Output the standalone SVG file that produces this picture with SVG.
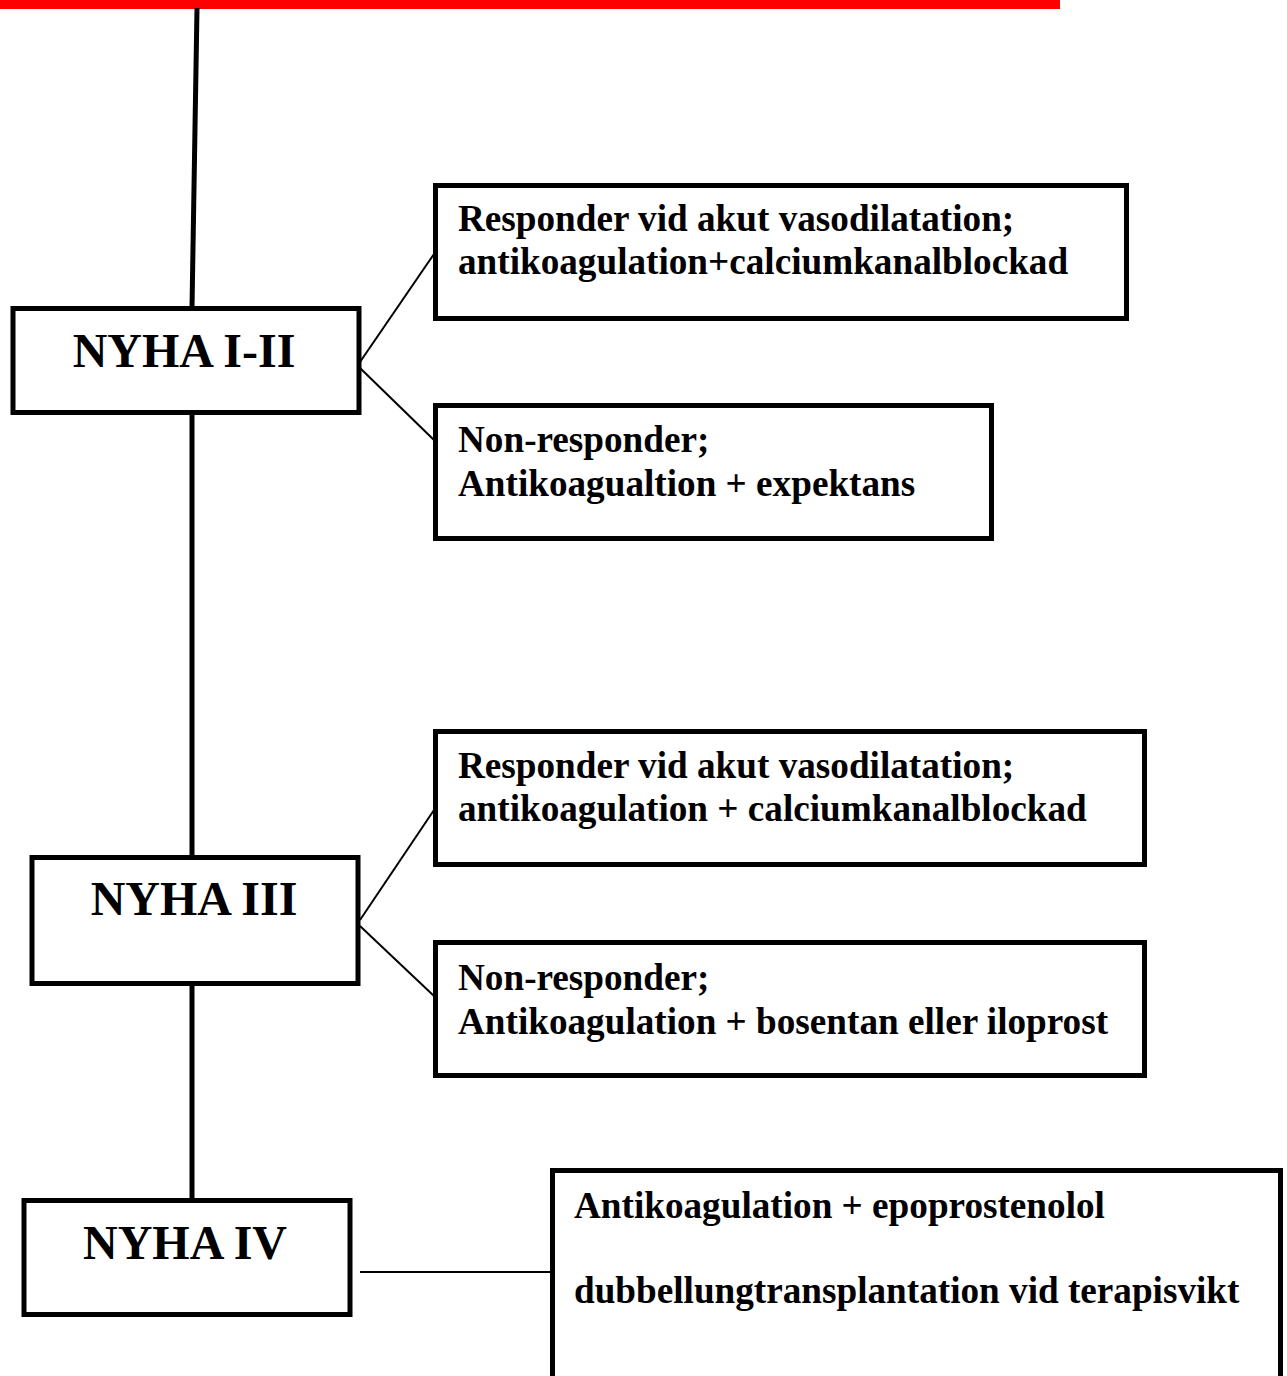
<svg xmlns="http://www.w3.org/2000/svg" width="1287" height="1376" viewBox="0 0 1287 1376">
<style>
.box{fill:#fff;stroke:#000;stroke-width:5}
.big{font-family:"Liberation Serif","Times New Roman",serif;font-weight:bold;font-size:48px;fill:#000;text-anchor:middle}
.txt{font-family:"Liberation Serif","Times New Roman",serif;font-weight:bold;font-size:37.2px;fill:#000}
.thick{stroke:#000;stroke-width:5;fill:none}
.thin{stroke:#000;stroke-width:2;fill:none}
</style>
<rect x="0" y="0" width="1287" height="1376" fill="#fff"/>
<g id="top-bar"><rect x="0" y="0" width="1060" height="9" fill="#ff0000"/></g>
<g id="connectors">
<line class="thick" x1="197" y1="8" x2="192" y2="308"/>
<line class="thick" x1="192" y1="414" x2="192" y2="856"/>
<line class="thick" x1="192" y1="984" x2="192" y2="1200"/>
<line class="thin" x1="360" y1="362" x2="434" y2="254"/>
<line class="thin" x1="360" y1="368" x2="434" y2="440"/>
<line class="thin" x1="360" y1="920" x2="434" y2="810"/>
<line class="thin" x1="360" y1="926" x2="434" y2="996"/>
<line class="thin" x1="360" y1="1272" x2="551" y2="1272"/>
</g>
<g id="nyha-1-2"><rect class="box" x="13" y="308.5" width="346" height="104"/><text class="big" x="184" y="367">NYHA I-II</text></g>
<g id="nyha-3"><rect class="box" x="32" y="857.5" width="326" height="126"/><text class="big" x="194" y="915">NYHA III</text></g>
<g id="nyha-4"><rect class="box" x="24" y="1200.5" width="326" height="114"/><text class="big" x="185" y="1259">NYHA IV</text></g>
<g id="resp-1"><rect class="box" x="435.5" y="185.5" width="691" height="133"/><text class="txt" x="458" y="231">Responder vid akut vasodilatation;</text><text class="txt" x="458" y="274">antikoagulation+calciumkanalblockad</text></g>
<g id="nonresp-1"><rect class="box" x="435.5" y="405.5" width="556" height="133"/><text class="txt" x="458" y="452">Non-responder;</text><text class="txt" x="458" y="496">Antikoagualtion + expektans</text></g>
<g id="resp-3"><rect class="box" x="435.5" y="731.5" width="709" height="133"/><text class="txt" x="458" y="778">Responder vid akut vasodilatation;</text><text class="txt" x="458" y="821">antikoagulation + calciumkanalblockad</text></g>
<g id="nonresp-3"><rect class="box" x="435.5" y="942.5" width="709" height="133"/><text class="txt" x="458" y="990">Non-responder;</text><text class="txt" x="458" y="1034">Antikoagulation + bosentan eller iloprost</text></g>
<g id="nyha-4-tx"><rect class="box" x="552.5" y="1170.5" width="728" height="220"/><text class="txt" x="574" y="1218">Antikoagulation + epoprostenolol</text><text class="txt" x="574" y="1303">dubbellungtransplantation vid terapisvikt</text></g>
</svg>
